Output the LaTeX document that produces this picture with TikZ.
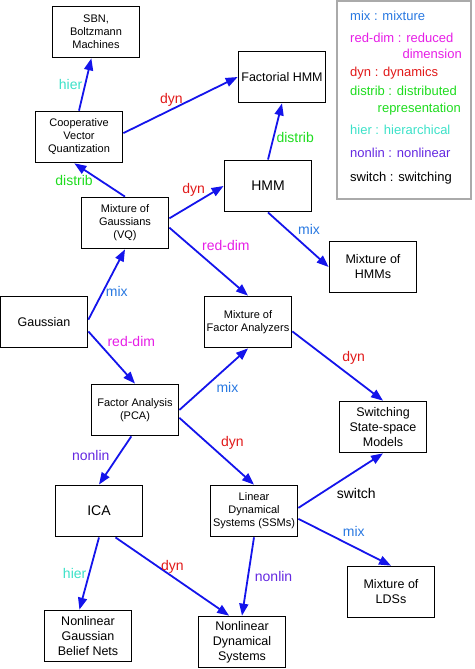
\documentclass[tikz,border=0pt]{standalone}
\usepackage{fontspec}
\setmainfont{Liberation Sans}
\usetikzlibrary{positioning, arrows.meta}

\definecolor{mixcol}{RGB}{40,120,225}
\definecolor{redcol}{RGB}{230,30,230}
\definecolor{dyncol}{RGB}{225,25,25}
\definecolor{distcol}{RGB}{30,220,30}
\definecolor{hiercol}{RGB}{60,225,200}
\definecolor{nonlincol}{RGB}{100,40,225}
\definecolor{edgecol}{RGB}{20,20,235}
\definecolor{framecol}{RGB}{170,170,170}

\begin{document}
\begin{tikzpicture}[->,>={Triangle[length=12pt,width=9pt]},x=1pt,y=-1pt,on grid]
    \tikzstyle{box}=[draw, line width=1.7pt, minimum width=87pt, minimum height=51pt, align=center, inner sep=1pt]
    \tikzstyle{fsmall}=[font=\fontsize{11}{13}\selectfont]
    \tikzstyle{fmid}=[font=\fontsize{12.5}{15}\selectfont]
    \tikzstyle{fbig}=[font=\fontsize{14}{16}\selectfont, line width=1.9pt]
    \tikzstyle{link}=[draw=edgecol, line width=1.8pt]
    \tikzstyle{lbl}=[font=\fontsize{14}{16}\selectfont, inner sep=2pt]
    \tikzstyle{leg}=[font=\fontsize{13}{15}\selectfont, inner sep=0pt]
    \useasboundingbox (0,0) rectangle (474,669);

      \node[box, fmid] (gauss) at (44,322) {Gaussian};
      \node[box, fsmall, above right = 99pt and 81pt of gauss]  (mog)   {Mixture of\\Gaussians\\(VQ)};
      \node[box, fsmall, below right = 88pt and 91pt of gauss]  (fa)    {Factor Analysis\\(PCA)};
      \node[box, fsmall, right = 204pt of gauss]                (mfa)   {Mixture of\\Factor Analyzers};
      \node[box, fsmall, above left = 86pt and 46pt of mog]     (cvq)   {Cooperative\\Vector\\Quantization};
      \node[box, fsmall, above right = 105pt and 17pt of cvq]   (sbn)   {SBN,\\Boltzmann\\Machines};
      \node[box, fbig, above right = 37pt and 143pt of mog]     (hmm)   {HMM};
      \node[box, fmid, above right = 109pt and 14pt of hmm]     (fhmm)  {Factorial HMM};
      \node[box, fmid, below right = 81pt and 105pt of hmm]     (mohmm) {Mixture of\\HMMs};
      \node[box, fmid, below right = 105pt and 135pt of mfa]    (sssm)  {Switching\\State-space\\Models};
      \node[box, fsmall, below right = 101pt and 119pt of fa]   (lds)   {Linear\\Dynamical\\Systems (SSMs)};
      \node[box, fbig, below left = 101pt and 36pt of fa]       (ica)   {ICA};
      \node[box, fmid, below right = 81pt and 137pt of lds]     (molds) {Mixture of\\LDSs};
      \node[box, fmid, below left = 125pt and 11pt of ica]      (ngbn)  {Nonlinear\\Gaussian\\Belief Nets};
      \node[box, fmid, below left = 131pt and 12pt of lds]      (nds)   {Nonlinear\\Dynamical\\Systems};

      \draw[link] (cvq.north) --node[lbl, hiercol, left]{hier}                  (sbn.-100);
      \draw[link] (cvq.5)     --node[lbl, dyncol, pos=0.42, above]{dyn}         (fhmm.west);
      \draw[link] (mog.north) --node[lbl, distcol, left=4pt]{distrib}           (cvq.-100);
      \draw[link] (mog.6)     --node[lbl, dyncol, pos=0.45, above=4pt]{dyn}     (hmm.west);
      \draw[link] (mog.-6)    --node[lbl, redcol, pos=0.38, above right]{red-dim} (mfa.north);
      \draw[link] (hmm.north) --node[lbl, distcol, pos=0.4, right]{distrib}     (fhmm.south);
      \draw[link] (hmm.south) --node[lbl, mixcol, pos=0.45, above right]{mix}   (mohmm.west);
      \draw[link] (gauss.3)   --node[lbl, mixcol, pos=0.4, right]{mix}          (mog.south);
      \draw[link] (gauss.-12) --node[lbl, redcol, pos=0.35, above right]{red-dim} (fa.north);
      \draw[link] (fa.east)   --node[lbl, mixcol, below right]{mix}             (mfa.south);
      \draw[link] (mfa.-12)   --node[lbl, dyncol, pos=0.52, above right]{dyn}   (sssm.north);
      \draw[link] (fa.-10)    --node[lbl, dyncol, pos=0.52, above right]{dyn}   (lds.north);
      \draw[link] (fa.-98)    --node[lbl, nonlincol, pos=0.4, left=6pt]{nonlin} (ica.north);
      \draw[link] (lds.4)     --node[lbl, pos=0.42, below right]{switch}        (sssm.south);
      \draw[link] (lds.-10)   --node[lbl, mixcol, pos=0.45, above right]{mix}   (molds.north);
      \draw[link] (lds.south) --node[lbl, nonlincol, right=4pt]{nonlin}         (nds.north);
      \draw[link] (ica.-58)   --node[lbl, dyncol, above]{dyn}                   (nds.116);
      \draw[link] (ica.south) --node[lbl, hiercol, left]{hier}                  (ngbn.108);

      % legend
      \draw[-, draw=framecol, line width=1.5pt] (337,1) rectangle (471,199);
      \node[leg, mixcol, anchor=base west]    (lmix)   at (350,21)  {mix : mixture};
      \node[leg, redcol, anchor=base west]    (lred)   at (350,43)  {red-dim : reduced};
      \node[leg, redcol, anchor=base east]    (lredb)  at (462,59)  {dimension};
      \node[leg, dyncol, anchor=base west]    (ldyn)   at (350,77)  {dyn : dynamics};
      \node[leg, distcol, anchor=base west]   (ldist)  at (350,95)  {distrib : distributed};
      \node[leg, distcol, anchor=base east]   (ldistb) at (461,112) {representation};
      \node[leg, hiercol, anchor=base west]   (lhier)  at (350,134) {hier : hierarchical};
      \node[leg, nonlincol, anchor=base west] (lnon)   at (350,157) {nonlin : nonlinear};
      \node[leg, anchor=base west]            (lsw)    at (350,181) {switch : switching};
\end{tikzpicture}
\end{document}
